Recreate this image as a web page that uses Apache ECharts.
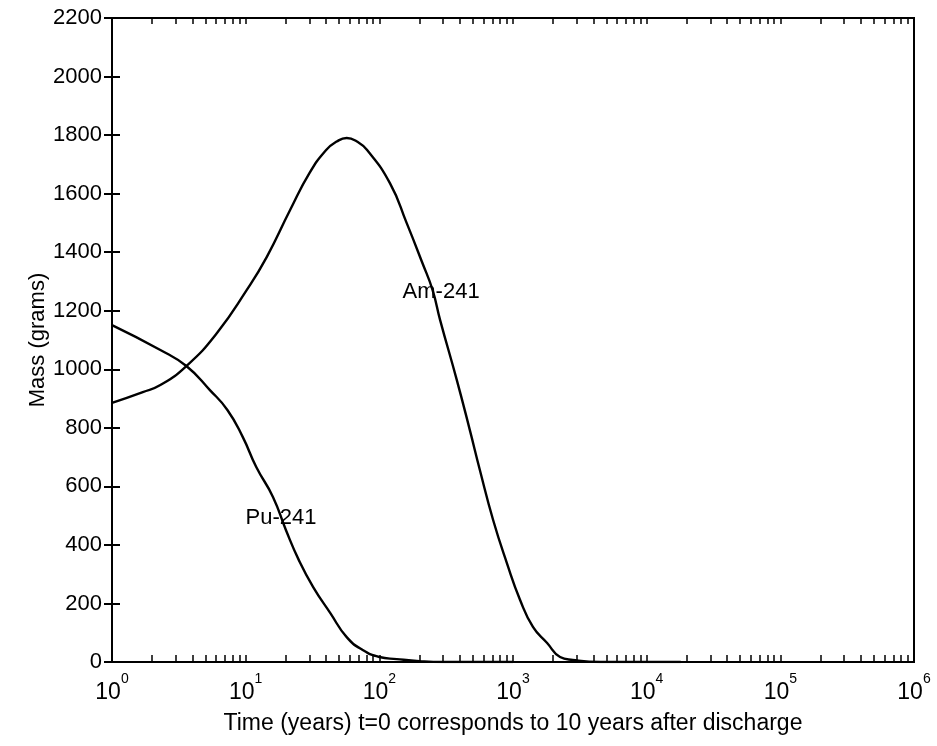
<!DOCTYPE html>
<html>
<head>
<meta charset="utf-8">
<script src="https://cdn.jsdelivr.net/npm/echarts@6/dist/echarts.min.js"></script>
<style>
 html, body { margin: 0; padding: 0; background: #fff; }
 #chart { width: 937px; height: 746px; }
</style>
</head>
<body>
<div id="chart"></div>
<script>
 // values (time in years, mass in grams)
 var puTime = [1, 2.3, 3.6, 5.4, 7.3, 9.5, 12, 16, 20, 25, 32, 43, 57, 75, 100, 135, 200, 300, 1000];
 var puMass = [1151, 1066, 1011, 929, 861, 769, 666, 564, 451, 348, 256, 167, 85, 41, 17, 10, 3, 0, 0];
 var amTime = [1, 1.7, 2.3, 3.6, 6.1, 10.2, 14.4, 21.5, 30, 40, 48, 57, 68, 81, 120, 160, 210, 250, 285, 380, 475, 565, 710, 900, 1130, 1410, 1800, 2250, 2800, 4500, 18000];
 var amMass = [885, 922, 946, 1011, 1124, 1271, 1384, 1544, 1670, 1749, 1778, 1790, 1778, 1749, 1636, 1500, 1363, 1271, 1168, 963, 793, 656, 485, 338, 212, 120, 65, 17, 7, 0, 0];
 var labelAm = [290, 1264];
 var labelPu = [18.4, 492];
 var decades = [0, 1, 2, 3, 4, 5, 6];

 // log ticks 1..9 per decade, put on a linear 0..6 overlay axis
 var logTicks = [];
 for (var d = 0; d < 6; d++) {
   for (var k = 1; k < 10; k++) logTicks.push(d + Math.log10(k));
 }
 logTicks.push(6);

 function pairs(xs, ys) {
   var out = [];
   for (var i = 0; i < xs.length; i++) out.push([xs[i], ys[i]]);
   return out;
 }

 var font = 'Liberation Sans, Arial, sans-serif';

 function curveLabel(text, coord) {
   return {
     symbol: 'circle', symbolSize: 1,
     itemStyle: {color: 'rgba(0,0,0,0)'},
     label: {show: true, position: 'inside', formatter: text, color: '#000', fontSize: 22, fontFamily: font},
     data: [{coord: coord}]
   };
 }

 var option = {
   animation: false,
   backgroundColor: '#fff',
   grid: {
     left: 112, right: 23, top: 18, bottom: 84,
     show: true, borderColor: '#000', borderWidth: 2
   },
   xAxis: [
     {  // data axis
       type: 'log', logBase: 10, min: 1, max: 1000000,
       axisLine: {show: false}, axisTick: {show: false},
       axisLabel: {show: false}, splitLine: {show: false}
     },
     {  // bottom ticks and labels
       type: 'value', min: 0, max: 6, position: 'bottom',
       name: 'Time (years) t=0 corresponds to 10 years after discharge',
       nameLocation: 'middle', nameGap: 50, nameMoveOverlap: false,
       nameTextStyle: {color: '#000', fontSize: 23, fontFamily: font},
       axisLine: {show: false}, splitLine: {show: false},
       axisTick: {inside: true, length: 7, customValues: logTicks, lineStyle: {color: '#000', width: 1.5}},
       axisLabel: {
         customValues: decades, margin: 10, color: '#000',
         formatter: function (v) { return '{b|10}{s|' + v + '}'; },
         rich: {
           b: {fontSize: 23, fontFamily: font, color: '#000', lineHeight: 32, verticalAlign: 'bottom'},
           s: {fontSize: 14, fontFamily: font, color: '#000', lineHeight: 14, verticalAlign: 'top'}
         }
       }
     },
     {  // top ticks
       type: 'value', min: 0, max: 6, position: 'top',
       axisLine: {show: false}, splitLine: {show: false}, axisLabel: {show: false},
       axisTick: {inside: true, length: 6, customValues: logTicks, lineStyle: {color: '#000', width: 1.5}}
     }
   ],
   yAxis: [
     {
       type: 'value', min: 0, max: 2200, interval: 200,
       name: 'Mass (grams)', nameLocation: 'middle', nameGap: 63, nameMoveOverlap: false,
       nameTextStyle: {color: '#000', fontSize: 22, fontFamily: font},
       axisLine: {show: false}, splitLine: {show: false},
       axisTick: {inside: true, length: 8, lineStyle: {color: '#000', width: 2}},
       axisLabel: {
         color: '#000', fontSize: 22, fontFamily: font, margin: 10,
         formatter: function (v) { return String(v); }
       }
     },
     {
       type: 'value', min: 0, max: 2200, interval: 200, position: 'right',
       axisLine: {show: false}, splitLine: {show: false}, axisLabel: {show: false},
       axisTick: {inside: true, length: 8, lineStyle: {color: '#000', width: 2}}
     }
   ],
   series: [
     {
       name: 'Pu-241', type: 'line', xAxisIndex: 0, yAxisIndex: 0,
       data: pairs(puTime, puMass), showSymbol: false, smooth: 0.5,
       lineStyle: {color: '#000', width: 2.4},
       markPoint: curveLabel('Pu-241', labelPu)
     },
     {
       name: 'Am-241', type: 'line', xAxisIndex: 0, yAxisIndex: 0,
       data: pairs(amTime, amMass), showSymbol: false, smooth: 0.5,
       lineStyle: {color: '#000', width: 2.4},
       markPoint: curveLabel('Am-241', labelAm)
     }
   ]
 };

 var myChart = echarts.init(document.getElementById('chart'));
 myChart.setOption(option);
</script>
</body>
</html>
